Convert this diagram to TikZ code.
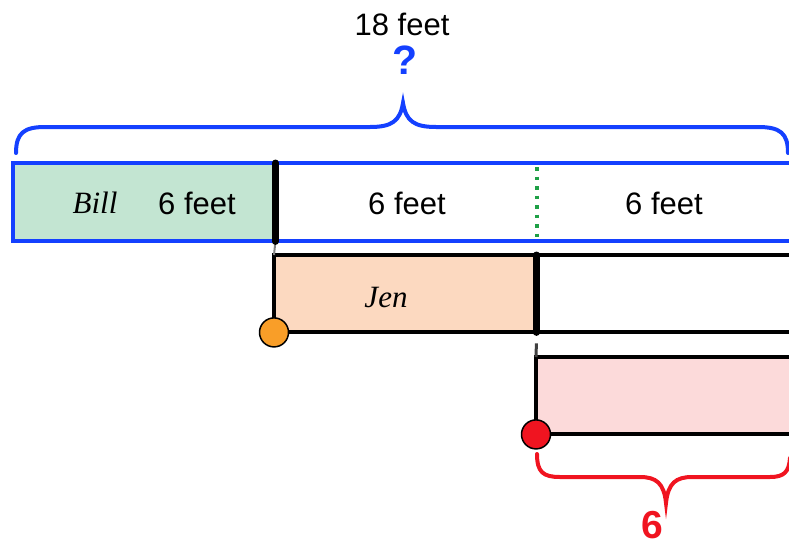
\documentclass[tikz,border=0pt]{standalone}
\usepackage{fontspec}
\setmainfont{Liberation Sans}
\newfontfamily\namefont{Liberation Serif}
\definecolor{billgreen}{RGB}{195,229,210}
\definecolor{jenorange}{RGB}{252,217,192}
\definecolor{thirdpink}{RGB}{252,218,218}
\definecolor{braceblue}{RGB}{20,64,255}
\definecolor{braced}{RGB}{240,20,32}
\definecolor{dotorange}{RGB}{249,158,40}
\definecolor{dotgreen}{RGB}{30,160,70}
\tikzset{
  seg/.style={rectangle,inner sep=0,minimum height=78,anchor=north west},
  feet/.style={font=\fontsize{31}{36}\selectfont},
  who/.style={font=\fontsize{31}{36}\selectfont\namefont\itshape},
  big/.style={font=\fontsize{41}{48}\selectfont\bfseries,inner sep=0},
  dot/.style={circle,draw=black,line width=1.5,minimum size=29,inner sep=0},
  sep/.style={line width=7,line cap=round},
}
\begin{document}
\begin{tikzpicture}[x=1pt,y=-1pt]
\useasboundingbox (0,0) rectangle (789,546);
\clip (0,0) rectangle (789,546);
% top bar
\node[seg,fill=billgreen,minimum width=262] (bill) at (13,163) {};
\node[seg,minimum width=261] (mid) at (bill.north east) {};
\node[seg,minimum width=300] (rest) at (mid.north east) {};
\draw[braceblue,line width=4] (bill.north west) rectangle (rest.south east);
\draw[dotgreen,line width=3.5,dash pattern=on 3.5 off 6] ([yshift=-4pt]mid.north east) -- ([yshift=3pt]mid.south east);
\node[who] (billname) at (95,203) {Bill};
\node[feet] (billfeet) at (197,203) {6 feet};
\node[feet] (midfeet) at (407,203) {6 feet};
\node[feet] (restfeet) at (664,203) {6 feet};
% Jen
\node[seg,fill=jenorange,minimum width=262,minimum height=77] (jen) at (274,255) {};
\node[seg,minimum width=300,minimum height=77] (jenrest) at (jen.north east) {};
\draw[line width=4] (jen.north west) rectangle (jenrest.south east);
\draw[gray,line width=2] (mid.south west) -- (jen.north west);
\draw[sep] (mid.north west) -- (mid.south west);
\draw[sep] (jen.north east) -- (jen.south east);
\node[who] (jenname) at (386,297) {Jen};
\node[dot,fill=dotorange] (jendot) at (jen.south west) {};
% third bar
\node[seg,fill=thirdpink,minimum width=300,minimum height=77] (third) at (536,357) {};
\draw[line width=4] (third.south east) -- (third.south west) -- (third.north west) -- (third.north east);
\draw[black!75,line width=3] ([yshift=-11pt]jen.south east) -- (third.north west);
\node[dot,fill=braced] (thirddot) at (third.south west) {};
% braces
\coordinate (bluetip) at (403,103);
\draw[braceblue,line width=4,line cap=round] (16,153) .. controls (16,133) and (24,127) .. (45,127)
  -- (370,127) .. controls (392,127) and (400,121) .. (bluetip)
  .. controls (406,121) and (414,127) .. (436,127) -- (758,127)
  .. controls (780,127) and (788,133) .. (788,153);
\node[big,text=braceblue] (ask) at (405,60) {?};
\node[feet] (total) at (402,24) {18 feet};
\coordinate (redtip) at (666,503);
\draw[braced,line width=4,line cap=round] (537,454) .. controls (537,472) and (543,477) .. (560,477)
  -- (640,477) .. controls (656,477) and (664,483) .. (redtip)
  .. controls (668,483) and (676,477) .. (692,477) -- (770,477)
  .. controls (784,477) and (789,472) .. (790,458);
\node[big,text=braced,font=\fontsize{39}{46}\selectfont\bfseries] (six) at (652,525) {6};
\end{tikzpicture}
\end{document}
